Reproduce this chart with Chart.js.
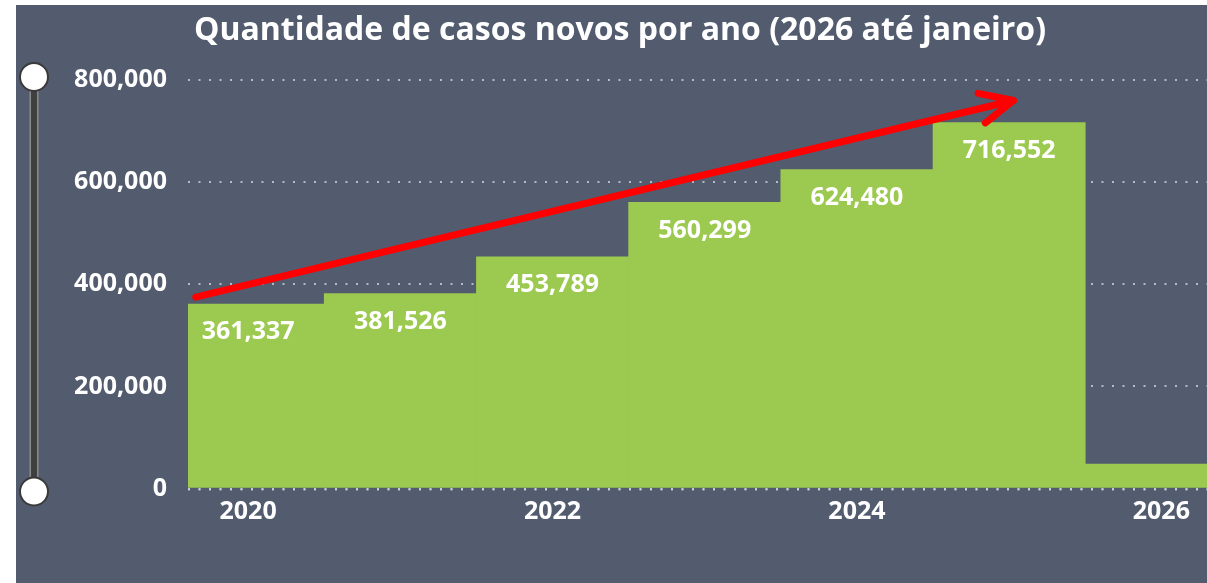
<!DOCTYPE html>
<html>
<head>
<meta charset="utf-8">
<script src="https://cdn.jsdelivr.net/npm/chart.js@4/dist/chart.umd.min.js"></script>
<style>
  html, body { margin: 0; padding: 0; background: #ffffff; }
  #panel {
    position: absolute;
    left: 16px;
    top: 5px;
    width: 1191px;
    height: 578px;
    background: #525c6e;
  }
  #casos-chart { display: block; }
</style>
</head>
<body>
<div id="panel">
  <canvas id="casos-chart" width="1191" height="578"></canvas>
</div>
<script>
const years = [2020, 2021, 2022, 2023, 2024, 2025, 2026];
const newCases = [361337, 381526, 453789, 560299, 624480, 716552, 48000];
const yTickStep = 200000;
const yMax = 800000;
const xTickStep = 2;
// visible window of the x axis (the view is scrolled, so the edges are cut)
const xMin = 2019.605;
const xMax = 2026.3;
// trend arrow, in data units: [year, cases]
const arrowFrom = [2019.656, 374600];
const arrowTo = [2025.028, 759900];

const textFont = "'Open Sans', 'DejaVu Sans', sans-serif";

// Left zoom slider (decoration only)
const sliderPlugin = {
  id: "slider",
  afterDraw(chart) {
    const ctx = chart.ctx;
    const top = chart.chartArea.top - 3;
    const bottom = chart.chartArea.bottom + 3;
    const x = 18;
    ctx.save();
    ctx.strokeStyle = "#8a8a8a";
    ctx.lineWidth = 9;
    ctx.beginPath();
    ctx.moveTo(x, top);
    ctx.lineTo(x, bottom);
    ctx.stroke();
    ctx.strokeStyle = "#3f3f3f";
    ctx.lineWidth = 6;
    ctx.beginPath();
    ctx.moveTo(x, top);
    ctx.lineTo(x, bottom);
    ctx.stroke();
    [top, bottom].forEach((y) => {
      ctx.beginPath();
      ctx.arc(x, y, 14, 0, Math.PI * 2);
      ctx.fillStyle = "#ffffff";
      ctx.fill();
      ctx.lineWidth = 2;
      ctx.strokeStyle = "#3a3a3a";
      ctx.stroke();
    });
    ctx.restore();
  },
};

// Value labels inside the top of each bar
const barLabelPlugin = {
  id: "barLabels",
  afterDatasetsDraw(chart) {
    const ctx = chart.ctx;
    const meta = chart.getDatasetMeta(0);
    ctx.save();
    ctx.font = "bold 25px " + textFont;
    ctx.fillStyle = "#ffffff";
    ctx.textAlign = "center";
    ctx.textBaseline = "middle";
    meta.data.forEach((bar, i) => {
      if (bar.base - bar.y < 50) return;
      ctx.fillText(newCases[i].toLocaleString("en-US"), bar.x, bar.y + 28);
    });
    ctx.restore();
  },
};

// Dotted baseline under the bars
const baselinePlugin = {
  id: "baseline",
  afterDatasetsDraw(chart) {
    const ctx = chart.ctx;
    const y = chart.scales.y.getPixelForValue(0) + 1;
    ctx.save();
    ctx.strokeStyle = "rgba(215,218,224,0.75)";
    ctx.lineWidth = 2;
    ctx.setLineDash([2, 8.5]);
    ctx.beginPath();
    ctx.moveTo(chart.chartArea.left, y);
    ctx.lineTo(chart.chartArea.right, y);
    ctx.stroke();
    ctx.restore();
  },
};

// Red trend arrow, placed through the scales
const arrowPlugin = {
  id: "trendArrow",
  afterDatasetsDraw(chart) {
    const ctx = chart.ctx;
    const xs = chart.scales.x;
    const ys = chart.scales.y;
    const x1 = xs.getPixelForValue(arrowFrom[0]);
    const y1 = ys.getPixelForValue(arrowFrom[1]);
    const x2 = xs.getPixelForValue(arrowTo[0]);
    const y2 = ys.getPixelForValue(arrowTo[1]);
    const angle = Math.atan2(y2 - y1, x2 - x1);
    const head = 36;
    const spread = (25 * Math.PI) / 180;
    ctx.save();
    ctx.strokeStyle = "#ff0000";
    ctx.lineWidth = 7;
    ctx.lineCap = "round";
    ctx.lineJoin = "round";
    ctx.beginPath();
    ctx.moveTo(x1, y1);
    ctx.lineTo(x2, y2);
    ctx.stroke();
    ctx.beginPath();
    ctx.moveTo(x2 - head * Math.cos(angle - spread), y2 - head * Math.sin(angle - spread));
    ctx.lineTo(x2, y2);
    ctx.lineTo(x2 - head * Math.cos(angle + spread), y2 - head * Math.sin(angle + spread));
    ctx.stroke();
    ctx.restore();
  },
};

const casosChart = document.getElementById("casos-chart");
const casosChartInstance = new Chart(casosChart, {
  type: "bar",
  data: {
    datasets: [
      {
        label: "Casos novos",
        data: years.map((year, i) => ({ x: year, y: newCases[i] })),
        backgroundColor: "#9cc94f",
        borderWidth: 0,
        categoryPercentage: 1,
        barPercentage: 1,
      },
    ],
  },
  options: {
    responsive: false,
    animation: false,
    layout: {
      padding: { left: 17, right: 0, top: 0, bottom: 0 },
    },
    plugins: {
      legend: { display: false },
      tooltip: { enabled: false },
      title: {
        display: true,
        text: "Quantidade de casos novos por ano (2026 até janeiro)",
        color: "#ffffff",
        font: { family: textFont, size: 32, weight: "bold" },
        padding: { top: 6.8, bottom: 29.8 },
      },
    },
    scales: {
      x: {
        type: "linear",
        min: xMin,
        max: xMax,
        offset: false,
        grid: { display: false, offset: false, drawTicks: false },
        border: { display: false },
        ticks: {
          stepSize: xTickStep,
          includeBounds: false,
          autoSkip: false,
          maxRotation: 0,
          padding: 8,
          color: "#ffffff",
          font: { family: textFont, size: 25, weight: "bold" },
          callback: (value) => String(value),
        },
        afterFit: (scale) => {
          scale.height = 94.5;
        },
      },
      y: {
        min: 0,
        max: yMax,
        grid: {
          color: "rgba(215,218,224,0.75)",
          lineWidth: 2,
          drawTicks: false,
        },
        border: { display: false, dash: [2, 8.5] },
        ticks: {
          stepSize: yTickStep,
          padding: 21,
          color: "#ffffff",
          font: { family: textFont, size: 25, weight: "bold" },
          callback: (value) => value.toLocaleString("en-US"),
        },
        afterFit: (scale) => {
          scale.width = 155;
        },
      },
    },
  },
  plugins: [sliderPlugin, barLabelPlugin, baselinePlugin, arrowPlugin],
});
</script>
</body>
</html>
